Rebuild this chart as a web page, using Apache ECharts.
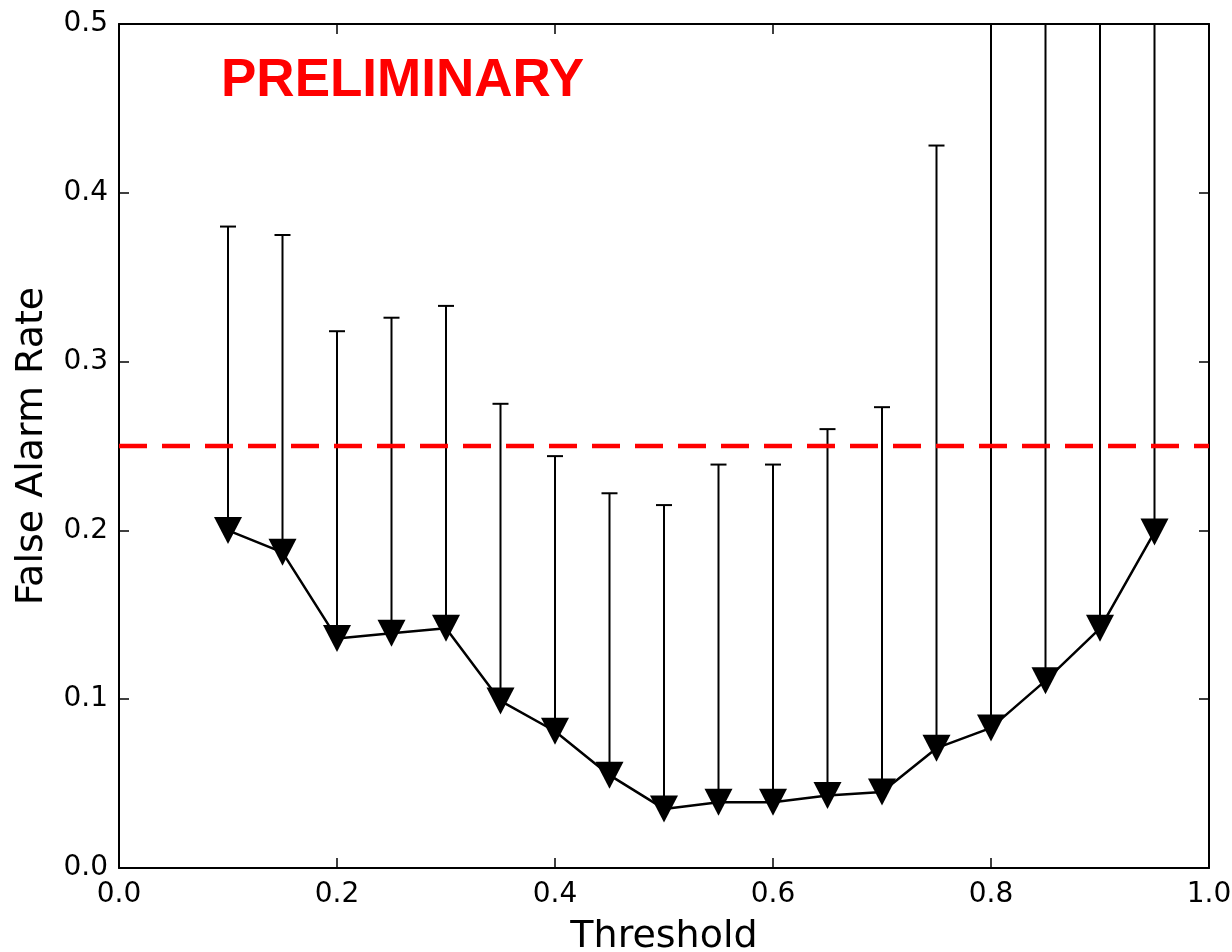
<!DOCTYPE html>
<html>
<head>
<meta charset="utf-8">
<script src="https://cdn.jsdelivr.net/npm/echarts@6/dist/echarts.min.js"></script>
<style>
  html, body { margin: 0; padding: 0; background: #fff; overflow: hidden; }
  #chart { width: 1232px; height: 952px; }
</style>
</head>
<body>
<div id="chart"></div>
<script>
// Threshold scan: false alarm rate (markers) with upper limits (error bars)
const thresholds = [0.10, 0.15, 0.20, 0.25, 0.30, 0.35, 0.40, 0.45, 0.50,
                    0.55, 0.60, 0.65, 0.70, 0.75, 0.80, 0.85, 0.90, 0.95];
const falseAlarmRate = [0.200, 0.187, 0.136, 0.139, 0.142, 0.099, 0.081, 0.055, 0.035,
                        0.039, 0.039, 0.043, 0.045, 0.071, 0.083, 0.111, 0.142, 0.199];
const upperLimit = [0.380, 0.375, 0.318, 0.326, 0.333, 0.275, 0.244, 0.222, 0.215,
                    0.239, 0.239, 0.260, 0.273, 0.428, 0.600, 0.650, 0.720, 0.800];
const referenceRate = 0.25;
const xTicks = [0.0, 0.2, 0.4, 0.6, 0.8, 1.0];
const yTicks = [0.0, 0.1, 0.2, 0.3, 0.4, 0.5];
const watermark = 'PRELIMINARY';

const FONT = 'DejaVu Sans';
const chart = echarts.init(document.getElementById('chart'), null, { renderer: 'canvas' });

const lineData = thresholds.map((t, i) => [t, falseAlarmRate[i]]);
const errData = thresholds.map((t, i) => [t, falseAlarmRate[i], upperLimit[i]]);

const tickStyle = { inside: true, length: 10, lineStyle: { color: '#000', width: 1.5 } };
const spine = { show: true, onZero: false, lineStyle: { color: '#000', width: 2 } };

function fmt(v) { return v.toFixed(1); }

chart.setOption({
  animation: false,
  backgroundColor: '#fff',
  grid: { left: 119, right: 23, top: 24, bottom: 84, containLabel: false, outerBoundsMode: 'none' },
  xAxis: [
    {
      type: 'value', min: xTicks[0], max: xTicks[xTicks.length - 1], interval: 0.2,
      position: 'bottom',
      name: 'Threshold', nameLocation: 'middle', nameGap: 50,
      nameTextStyle: { fontFamily: FONT, fontSize: 38, color: '#000' },
      axisLine: spine, axisTick: tickStyle, splitLine: { show: false },
      axisLabel: { fontFamily: FONT, fontSize: 28, color: '#000', margin: 13, formatter: fmt }
    },
    {
      type: 'value', min: xTicks[0], max: xTicks[xTicks.length - 1], interval: 0.2,
      position: 'top',
      axisLine: spine, axisTick: tickStyle, splitLine: { show: false },
      axisLabel: { show: false }
    }
  ],
  yAxis: [
    {
      type: 'value', min: yTicks[0], max: yTicks[yTicks.length - 1], interval: 0.1,
      position: 'left',
      name: 'False Alarm Rate', nameLocation: 'middle', nameGap: 68, nameRotate: 90,
      nameTextStyle: { fontFamily: FONT, fontSize: 38, color: '#000' },
      axisLine: spine, axisTick: tickStyle, splitLine: { show: false },
      axisLabel: { fontFamily: FONT, fontSize: 28, color: '#000', margin: 11, formatter: fmt }
    },
    {
      type: 'value', min: yTicks[0], max: yTicks[yTicks.length - 1], interval: 0.1,
      position: 'right',
      axisLine: spine, axisTick: tickStyle, splitLine: { show: false },
      axisLabel: { show: false }
    }
  ],
  graphic: [
    {
      type: 'text', left: 221, top: 55, z: 100,
      style: {
        text: watermark, fill: '#ff0000',
        font: 'bold 53px "Liberation Sans", Arial, sans-serif'
      }
    }
  ],
  series: [
    {
      // vertical bars from the measured rate up to its upper limit, with a cap
      type: 'custom', xAxisIndex: 0, yAxisIndex: 0, z: 2,
      data: errData,
      encode: { x: 0, y: [1, 2] },
      renderItem: function (params, api) {
        const cs = params.coordSys;
        const p0 = api.coord([api.value(0), api.value(1)]);
        const p1 = api.coord([api.value(0), api.value(2)]);
        const topY = Math.max(p1[1], cs.y);
        const children = [{
          type: 'line',
          shape: { x1: p0[0], y1: p0[1], x2: p1[0], y2: topY },
          style: { stroke: '#000', lineWidth: 2 }
        }];
        if (p1[1] >= cs.y) {
          children.push({
            type: 'line',
            shape: { x1: p1[0] - 8, y1: p1[1], x2: p1[0] + 8, y2: p1[1] },
            style: { stroke: '#000', lineWidth: 2 }
          });
        }
        return { type: 'group', children: children };
      }
    },
    {
      type: 'line', xAxisIndex: 0, yAxisIndex: 0, z: 3,
      data: lineData,
      symbol: 'path://M0,0L2,0L1,2Z', symbolSize: [28, 27], showAllSymbol: true,
      itemStyle: { color: '#000' },
      lineStyle: { color: '#000', width: 2.5 }
    },
    {
      type: 'line', xAxisIndex: 0, yAxisIndex: 0, z: 4,
      data: [[xTicks[0], referenceRate], [xTicks[xTicks.length - 1], referenceRate]],
      symbol: 'none',
      lineStyle: { color: '#ff0000', width: 4.5, type: [28, 15] }
    }
  ]
});
</script>
</body>
</html>
